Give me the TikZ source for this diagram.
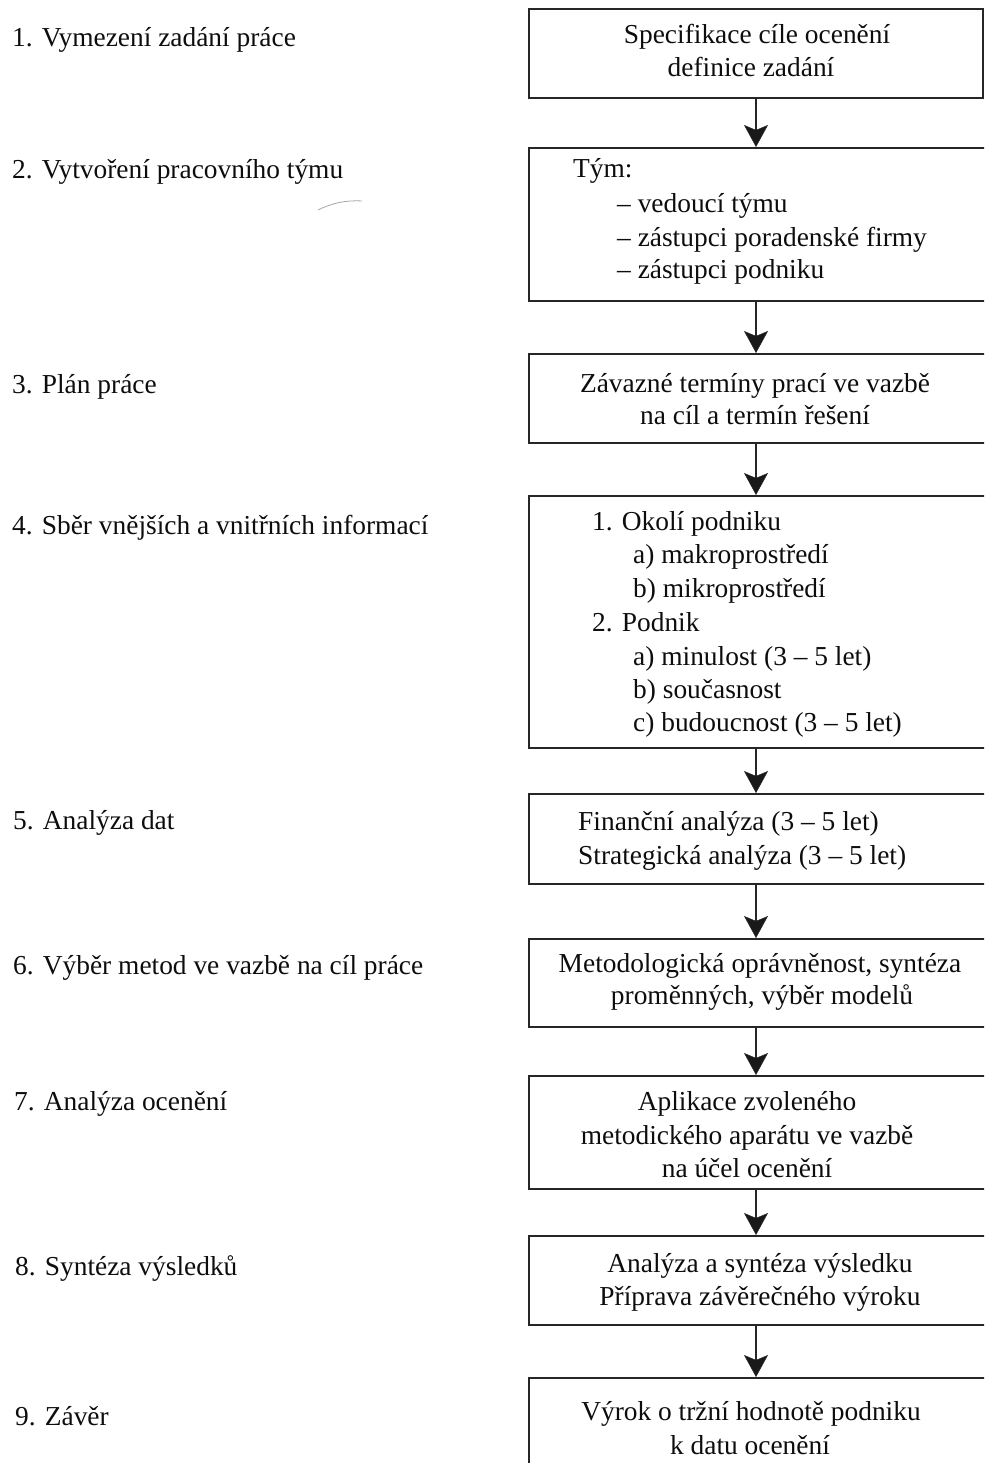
\documentclass[tikz,border=0pt]{standalone}
\usepackage{fontspec}
\setmainfont{Liberation Serif}
\usetikzlibrary{arrows.meta}

\tikzset{
  box/.style={draw=black!85, line width=2bp, rectangle, inner sep=0pt, anchor=north west},
  txt/.style={inner sep=0pt, text=black!95, font=\fontsize{27.4bp}{33bp}\selectfont},
  ctr/.style={txt, anchor=base},
  lft/.style={txt, anchor=base west},
  link/.style={draw=black!85, line width=1.5bp,
    -{Stealth[length=22bp, width=24bp, inset=5bp, fill=black!90, line width=0.5bp]}}
}

\begin{document}
\begin{tikzpicture}[x=1bp, y=-1bp]
\useasboundingbox (0,0) rectangle (984,1463);
\clip (0,0) rectangle (984,1463);

% step labels on the left
\node[lft] (l1) at (12,47)   {1. Vymezení zadání práce};
\node[lft] (l2) at (12,179)  {2. Vytvoření pracovního týmu};
\node[lft] (l3) at (12,393)  {3. Plán práce};
\node[lft] (l4) at (12,534)  {4. Sběr vnějších a vnitřních informací};
\node[lft] (l5) at (13,829)  {5. Analýza dat};
\node[lft] (l6) at (13,974)  {6. Výběr metod ve vazbě na cíl práce};
\node[lft] (l7) at (14,1110) {7. Analýza ocenění};
\node[lft] (l8) at (15,1275) {8. Syntéza výsledků};
\node[lft] (l9) at (15,1425) {9. Závěr};

% pencil mark under step 2
\draw[black!35, line width=0.8bp] (318,210) .. controls (332,203) and (346,200) .. (362,201);

% boxes of the flow
\node[box, minimum width=454bp, minimum height=89bp]  (b1) at (528,8)    {};
\node[box, minimum width=458bp, minimum height=153bp] (b2) at (528,147)  {};
\node[box, minimum width=458bp, minimum height=89bp]  (b3) at (528,353)  {};
\node[box, minimum width=458bp, minimum height=252bp] (b4) at (528,495)  {};
\node[box, minimum width=458bp, minimum height=90bp]  (b5) at (528,793)  {};
\node[box, minimum width=458bp, minimum height=88bp]  (b6) at (528,938)  {};
\node[box, minimum width=458bp, minimum height=113bp] (b7) at (528,1075) {};
\node[box, minimum width=458bp, minimum height=89bp]  (b8) at (528,1235) {};
\node[box, minimum width=458bp, minimum height=110bp] (b9) at (528,1377) {};

% box texts
\node[ctr] (t1a) at (757,44) {Specifikace cíle ocenění};
\node[ctr] (t1b) at (751,77) {definice zadání};

\node[lft] (t2a) at (573,178) {Tým:};
\node[lft] (t2b) at (617,213) {– vedoucí týmu};
\node[lft] (t2c) at (617,246) {– zástupci poradenské firmy};
\node[lft] (t2d) at (617,278) {– zástupci podniku};

\node[ctr] (t3a) at (755,392) {Závazné termíny prací ve vazbě};
\node[ctr] (t3b) at (755,424) {na cíl a termín řešení};

\node[lft] (t4a) at (592,530) {1. Okolí podniku};
\node[lft] (t4b) at (633,563) {a) makroprostředí};
\node[lft] (t4c) at (633,597) {b) mikroprostředí};
\node[lft] (t4d) at (592,631) {2. Podnik};
\node[lft] (t4e) at (633,665) {a) minulost (3 – 5 let)};
\node[lft] (t4f) at (633,698) {b) současnost};
\node[lft] (t4g) at (633,731) {c) budoucnost (3 – 5 let)};

\node[lft] (t5a) at (578,830) {Finanční analýza (3 – 5 let)};
\node[lft] (t5b) at (578,864) {Strategická analýza (3 – 5 let)};

\node[ctr] (t6a) at (760,972)  {Metodologická oprávněnost, syntéza};
\node[ctr] (t6b) at (762,1004) {proměnných, výběr modelů};

\node[ctr] (t7a) at (747,1110) {Aplikace zvoleného};
\node[ctr] (t7b) at (747,1144) {metodického aparátu ve vazbě};
\node[ctr] (t7c) at (747,1177) {na účel ocenění};

\node[ctr] (t8a) at (760,1272) {Analýza a syntéza výsledku};
\node[ctr] (t8b) at (760,1305) {Příprava závěrečného výroku};

\node[ctr] (t9a) at (751,1420) {Výrok o tržní hodnotě podniku};
\node[ctr] (t9b) at (750,1454) {k datu ocenění};

% connectors, all on the axis of the first box
\foreach \a/\b in {b1/b2, b2/b3, b3/b4, b4/b5, b5/b6, b6/b7, b7/b8, b8/b9} {
  \draw[link] (b1.south |- \a.south) -- (b1.south |- \b.north);
}
\end{tikzpicture}
\end{document}
